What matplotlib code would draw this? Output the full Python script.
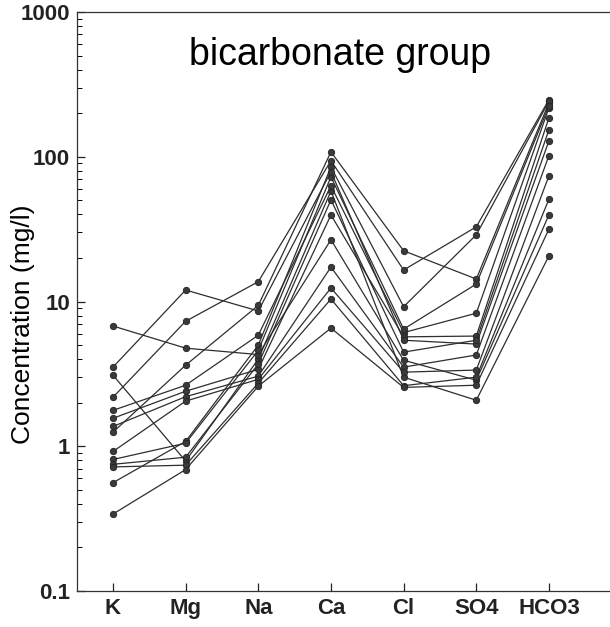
import matplotlib
matplotlib.use("Agg")
import matplotlib.pyplot as plt
from matplotlib.ticker import LogLocator, FixedLocator, FixedFormatter, NullFormatter

categories = ["K", "Mg", "Na", "Ca", "Cl", "SO4", "HCO3"]

# one list per sample: K, Mg, Na, Ca, Cl, SO4, HCO3 (mg/l)
s01 = [3.10, 0.79, 4.0, 58.0, 3.0, 2.08, 20.7]
s02 = [2.18, 7.3, 13.7, 94.0, 16.5, 32.8, 248.0]
s03 = [6.77, 4.76, 4.3, 26.7, 3.93, 2.86, 39.7]
s04 = [1.25, 3.63, 9.4, 108.0, 22.4, 14.3, 236.0]
s05 = [1.77, 2.64, 5.85, 63.0, 6.1, 8.3, 218.0]
s06 = [1.56, 2.40, 3.4, 39.6, 5.7, 5.77, 186.0]
s07 = [1.37, 2.20, 3.05, 17.3, 3.52, 4.27, 102.0]
s08 = [0.92, 2.05, 2.9, 12.4, 3.25, 3.36, 74.0]
s09 = [0.56, 1.08, 5.0, 85.0, 9.2, 28.9, 242.0]
s10 = [0.81, 1.05, 4.6, 72.6, 6.45, 13.2, 225.0]
s11 = [3.52, 12.0, 8.6, 79.0, 5.4, 5.08, 129.0]
s12 = [0.75, 0.84, 3.7, 50.4, 4.47, 5.4, 154.0]
s13 = [0.72, 0.74, 2.73, 10.4, 2.62, 3.0, 51.0]
s14 = [0.34, 0.69, 2.6, 6.55, 2.55, 2.64, 31.7]
samples = [s01, s02, s03, s04, s05, s06, s07, s08, s09, s10, s11, s12, s13, s14]

y_ticks = [0.1, 1, 10, 100, 1000]
y_ticklabels = ["0.1", "1", "10", "100", "1000"]

plt.rcParams['font.family'] = ['Liberation Sans', 'DejaVu Sans']

fig = plt.figure(figsize=(6.10, 6.27), dpi=100)
ax = fig.add_axes([77/610, 1 - 591/627, 1 - 77/610, (591 - 12)/627])

x = list(range(len(categories)))
for s in samples:
    ax.plot(x, s, color="#2e2e2e", lw=0.9, marker="o", markersize=4.6,
            markerfacecolor="#3a3a3a", markeredgecolor="#222222", markeredgewidth=0.6,
            zorder=3)

ax.set_yscale("log")
ax.set_ylim(0.1, 1000)
ax.set_xlim(-0.495, 6.84)

ax.yaxis.set_major_locator(FixedLocator(y_ticks))
ax.yaxis.set_major_formatter(FixedFormatter(y_ticklabels))
ax.yaxis.set_minor_locator(LogLocator(base=10, subs=range(2, 10)))
ax.yaxis.set_minor_formatter(NullFormatter())

ax.set_xticks(x)
ax.set_xticklabels(categories)

for lab in ax.get_yticklabels():
    lab.set_fontweight("bold")
    lab.set_fontsize(16)
for lab in ax.get_xticklabels():
    lab.set_fontweight("bold")
    lab.set_fontsize(16)

ax.tick_params(axis="y", which="major", direction="in", length=6, width=0.9, pad=5, colors="#222222")
ax.tick_params(axis="y", which="minor", direction="in", length=3.5, width=0.7)
ax.tick_params(axis="x", which="major", direction="in", length=6, width=0.9, pad=5, colors="#222222")
ax.tick_params(axis="x", which="minor", length=0)

for side in ["left", "top", "bottom"]:
    ax.spines[side].set_linewidth(0.9)
    ax.spines[side].set_color("#333333")
ax.spines["right"].set_visible(False)

ax.set_ylabel("Concentration (mg/l)", fontsize=19)
ax.yaxis.set_label_coords(-0.078, 0.46)
ax.text(0.493, 0.925, "bicarbonate group", transform=ax.transAxes,
        ha="center", va="center", fontsize=27)

fig.savefig("out.png", dpi=100)
